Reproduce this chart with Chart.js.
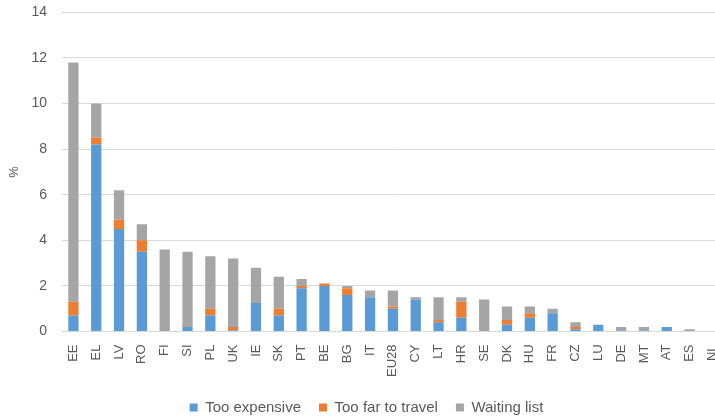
<!DOCTYPE html>
<html>
<head>
<meta charset="utf-8">
<script src="https://cdn.jsdelivr.net/npm/chart.js@4"></script>
<style>
  html, body { margin: 0; padding: 0; background: #fff; overflow: hidden; }
  #wrap { position: relative; width: 715px; height: 416px; overflow: hidden; }
  #myChart { position: absolute; left: 0; top: -11px; }
</style>
</head>
<body>
<div id="wrap"><canvas id="myChart" width="733" height="436"></canvas></div>
<script>
// Categories and series (%)
const countries = ['EE', 'EL', 'LV', 'RO', 'FI', 'SI', 'PL', 'UK', 'IE', 'SK', 'PT', 'BE', 'BG', 'IT',
  'EU28', 'CY', 'LT', 'HR', 'SE', 'DK', 'HU', 'FR', 'CZ', 'LU', 'DE', 'MT', 'AT', 'ES', 'NL'];
const tooExpensive = [0.7, 8.2, 4.5, 3.5, 0, 0.2, 0.7, 0.05, 1.25, 0.7, 1.9, 2.0, 1.6, 1.5,
  1.0, 1.4, 0.4, 0.6, 0, 0.3, 0.6, 0.8, 0.1, 0.3, 0.05, 0.05, 0.2, 0, 0];
const tooFar = [0.6, 0.3, 0.4, 0.5, 0, 0, 0.3, 0.15, 0, 0.3, 0.1, 0.1, 0.3, 0,
  0.1, 0, 0.1, 0.7, 0, 0.2, 0.2, 0, 0.1, 0, 0, 0, 0, 0, 0];
const waitingList = [10.5, 1.5, 1.3, 0.7, 3.6, 3.3, 2.3, 3.0, 1.55, 1.4, 0.3, 0, 0.1, 0.3,
  0.7, 0.1, 1.0, 0.2, 1.4, 0.6, 0.3, 0.2, 0.2, 0, 0.15, 0.15, 0, 0.1, 0];
const yTicks = [0, 2, 4, 6, 8, 10, 12, 14];

const ctx = document.getElementById('myChart').getContext('2d');

const fontFamily = 'Liberation Sans, Arial, sans-serif';

var myChart = new Chart(ctx, {
  type: 'bar',
  data: {
    labels: countries,
    datasets: [{
      label: 'Too expensive',
      data: tooExpensive,
      backgroundColor: '#5B9BD5'
    }, {
      label: 'Too far to travel',
      data: tooFar,
      backgroundColor: '#ED7D31'
    }, {
      label: 'Waiting list',
      data: waitingList,
      backgroundColor: '#A5A5A5'
    }]
  },
  options: {
    responsive: false,
    animation: false,
    layout: { padding: { left: 0, right: 0, top: 4, bottom: 0 } },
    datasets: {
      bar: { barPercentage: 0.45, categoryPercentage: 1.0 }
    },
    scales: {
      x: {
        stacked: true,
        grid: { display: false },
        border: { color: '#d9d9d9' },
        ticks: {
          color: '#595959',
          font: { family: fontFamily, size: 13 },
          minRotation: 90,
          maxRotation: 90,
          autoSkip: false,
          padding: 5
        }
      },
      y: {
        stacked: true,
        min: 0,
        max: 14,
        afterBuildTicks: function(axis) {
          axis.ticks = yTicks.map(v => ({ value: v }));
        },
        afterFit: function(axis) {
          axis.width = 62;
        },
        grid: { color: '#d9d9d9', drawTicks: false },
        border: { display: false },
        ticks: { color: '#595959', font: { family: fontFamily, size: 14 }, padding: 15 },
        title: {
          display: true,
          text: '%',
          color: '#595959',
          font: { family: fontFamily, size: 13 },
          padding: { top: 7, bottom: 0 }
        }
      }
    },
    plugins: {
      legend: {
        position: 'bottom',
        labels: {
          color: '#595959',
          font: { family: fontFamily, size: 15 },
          boxWidth: 8,
          boxHeight: 8,
          padding: 18
        }
      },
      tooltip: { enabled: false }
    }
  }
});
</script>
</body>
</html>
